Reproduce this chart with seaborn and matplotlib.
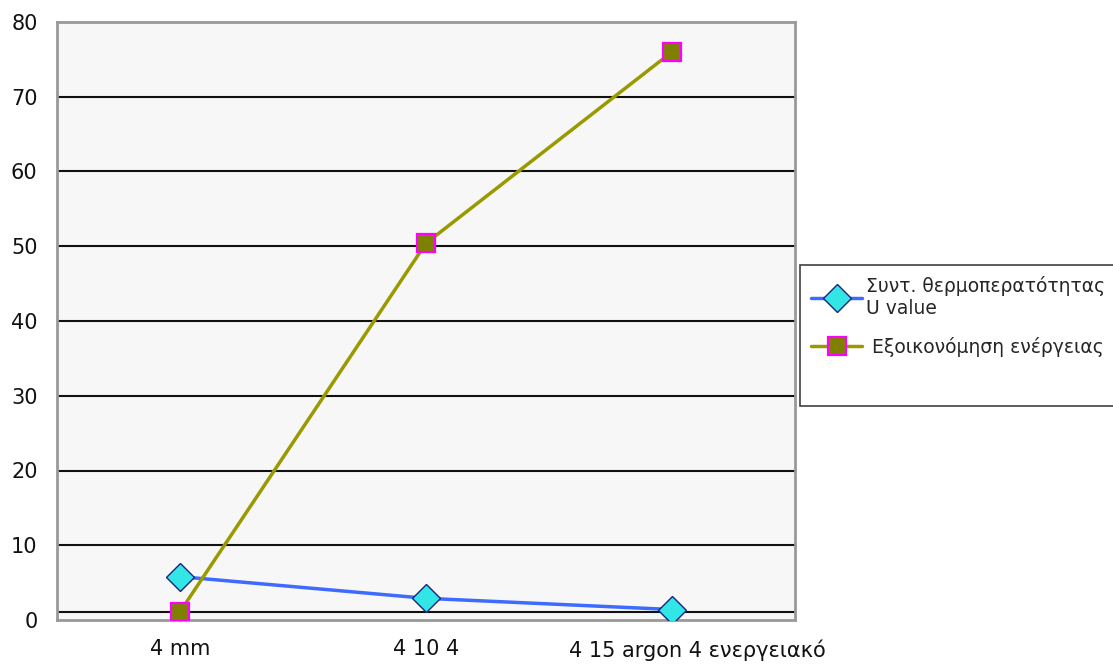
import matplotlib
matplotlib.use("Agg")
import matplotlib.pyplot as plt
import matplotlib.transforms as mtransforms
from matplotlib.lines import Line2D
import seaborn as sns
import pandas as pd

categories = ["4 mm", "4 10 4", "4 15 argon 4 ενεργειακό"]
u_value = [5.8, 2.9, 1.4]
energy_saving = [1.1, 50.4, 76.0]
series_names = ["Συντ. θερμοπερατότητας\nU value", " Εξοικονόμηση ενέργειας"]
y_ticks = [0, 10, 20, 30, 40, 50, 60, 70, 80]

sns.set_style("white")
plt.rcParams["font.family"] = ["DejaVu Sans"]

df_u = pd.DataFrame({"x": range(len(categories)), "y": u_value})
df_e = pd.DataFrame({"x": range(len(categories)), "y": energy_saving})

fig = plt.figure(figsize=(11.13, 6.66), dpi=100)
ax = fig.add_axes([57 / 1113, 46 / 666, 738 / 1113, 598 / 666])
ax.set_facecolor("#f7f7f7")

for y in y_ticks[1:-1]:
    ax.axhline(y, color="#111111", lw=1.5, zorder=1)
# category axis line crossing slightly above zero
ax.axhline(1.1, color="#111111", lw=1.5, zorder=1)

sns.lineplot(data=df_u, x="x", y="y", ax=ax, color="#3d6bff", lw=2.5,
             marker="D", markersize=14, markerfacecolor="#33e6e6",
             markeredgecolor="#1a237e", markeredgewidth=1.0,
             label=series_names[0], zorder=3)
sns.lineplot(data=df_e, x="x", y="y", ax=ax, color="#999900", lw=2.5,
             marker="s", markersize=13, markerfacecolor="#808000",
             markeredgecolor="#ff00ff", markeredgewidth=1.6,
             label=series_names[1], zorder=3)

ax.set_xlim(-0.5, len(categories) - 0.5)
ax.set_ylim(0, 80)
ax.set_xticks(range(len(categories)))
ax.set_xticklabels(categories)
ax.set_yticks(y_ticks)
ax.tick_params(axis="both", length=0, labelsize=15, colors="#111111")
ax.tick_params(axis="x", pad=14)
ax.tick_params(axis="y", pad=14)
ax.set_xlabel("")
ax.set_ylabel("")
for s in ax.spines.values():
    s.set_color("#999999")
    s.set_linewidth(2)

# the long last category label sits a little right of its tick
last = ax.get_xticklabels()[-1]
last.set_transform(last.get_transform() +
                   mtransforms.ScaledTranslation(0.25, 0, fig.dpi_scale_trans))

handles, labels = ax.get_legend_handles_labels()
handles.append(Line2D([], [], linestyle="none"))
labels.append("")
leg = ax.legend(handles, labels, loc="upper left", bbox_to_anchor=(1.007, 0.594),
                frameon=True, fancybox=False, edgecolor="#111111", fontsize=13.5,
                handlelength=2.7, borderpad=0.6, labelspacing=1.0,
                borderaxespad=0, handletextpad=0.2)
leg.get_frame().set_linewidth(1.2)

fig.savefig("out.png", dpi=100)
